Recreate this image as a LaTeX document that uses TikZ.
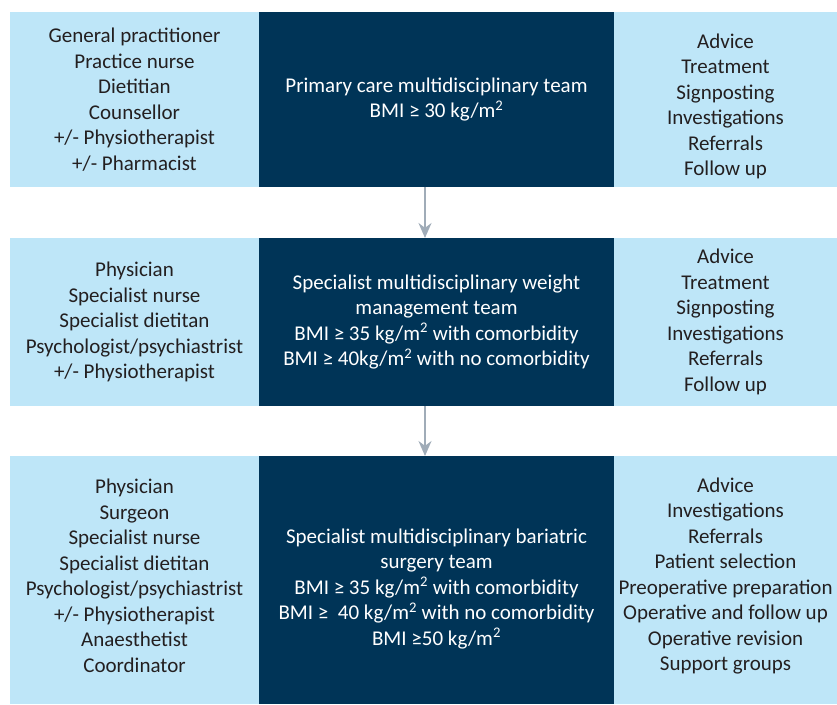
\documentclass[tikz,border=0pt]{standalone}
\usepackage{fontspec}
\setmainfont{Carlito}
\usepackage{xcolor}
\definecolor{paleblue}{RGB}{190,230,248}
\definecolor{navyblue}{RGB}{0,52,87}
\definecolor{darktext}{RGB}{35,31,32}
\definecolor{arrowgrey}{RGB}{160,172,184}
\usetikzlibrary{arrows.meta,positioning}
% shift a block of lines without changing the box size
\newcommand{\nudge}[2]{\raisebox{#1}[\height][\depth]{#2}}

\begin{document}
\begin{tikzpicture}[x=1pt,y=-1pt,
    sidebox/.style={fill=paleblue, text=darktext, align=center, inner sep=0pt, outer sep=0pt,
        font=\fontsize{21}{25.5}\selectfont},
    teambox/.style={fill=navyblue, text=white, align=center, inner sep=0pt, outer sep=0pt,
        font=\fontsize{21}{25.5}\selectfont},
    flow/.style={line width=2pt, arrowgrey, -{Stealth[length=15pt,width=13pt]}}]
    \useasboundingbox (0,0) rectangle (837,704);

    % Row 1: primary care
    \node[sidebox, minimum width=249pt, minimum height=175pt] (staff1) at (134.5,99.5)
        {General practitioner\\Practice nurse\\Dietitian\\Counsellor\\+/- Physiotherapist\\+/- Pharmacist};
    \node[teambox, minimum width=355pt, minimum height=175pt] (team1) at (436.5,99.5)
        {Primary care multidisciplinary team\\BMI ≥ 30 kg/m\textsuperscript{2}};
    \node[sidebox, minimum width=223pt, minimum height=175pt] (tasks1) at (725.5,99.5)
        {\nudge{-7pt}{\parbox{220pt}{\centering Advice\\Treatment\\Signposting\\Investigations\\Referrals\\Follow up}}};

    % Row 2: specialist weight management
    \node[sidebox, minimum width=249pt, minimum height=168pt] (staff2) at (134.5,322)
        {Physician\\Specialist nurse\\Specialist dietitan\\Psychologist/psychiastrist\\+/- Physiotherapist};
    \node[teambox, minimum width=355pt, minimum height=168pt] (team2) at (436.5,322)
        {Specialist multidisciplinary weight\\management team\\BMI ≥ 35 kg/m\textsuperscript{2} with comorbidity\\BMI ≥ 40kg/m\textsuperscript{2} with no comorbidity};
    \node[sidebox, minimum width=223pt, minimum height=168pt] (tasks2) at (725.5,322)
        {Advice\\Treatment\\Signposting\\Investigations\\Referrals\\Follow up};

    % Row 3: bariatric surgery
    \node[sidebox, minimum width=249pt, minimum height=248pt] (staff3) at (134.5,580)
        {\nudge{4pt}{\parbox{245pt}{\centering Physician\\Surgeon\\Specialist nurse\\Specialist dietitan\\Psychologist/psychiastrist\\+/- Physiotherapist\\Anaesthetist\\Coordinator}}};
    \node[teambox, minimum width=355pt, minimum height=248pt] (team3) at (436.5,580)
        {\nudge{-9pt}{\parbox{352pt}{\centering Specialist multidisciplinary bariatric\\surgery team\\BMI ≥ 35 kg/m\textsuperscript{2} with comorbidity\\BMI ≥~~40 kg/m\textsuperscript{2} with no comorbidity\\BMI ≥50 kg/m\textsuperscript{2}}}};
    \node[sidebox, minimum width=223pt, minimum height=248pt] (tasks3) at (725.5,580)
        {\nudge{4pt}{\parbox{223pt}{\centering Advice\\Investigations\\Referrals\\Patient selection\\Preoperative preparation\\Operative and follow up\\Operative revision\\Support groups}}};

    % Arrows between teams
    \draw[flow] ([xshift=-11.5pt]team1.south) -- ([xshift=-11.5pt]team2.north);
    \draw[flow] ([xshift=-11.5pt]team2.south) -- ([xshift=-11.5pt]team3.north);
\end{tikzpicture}
\end{document}
